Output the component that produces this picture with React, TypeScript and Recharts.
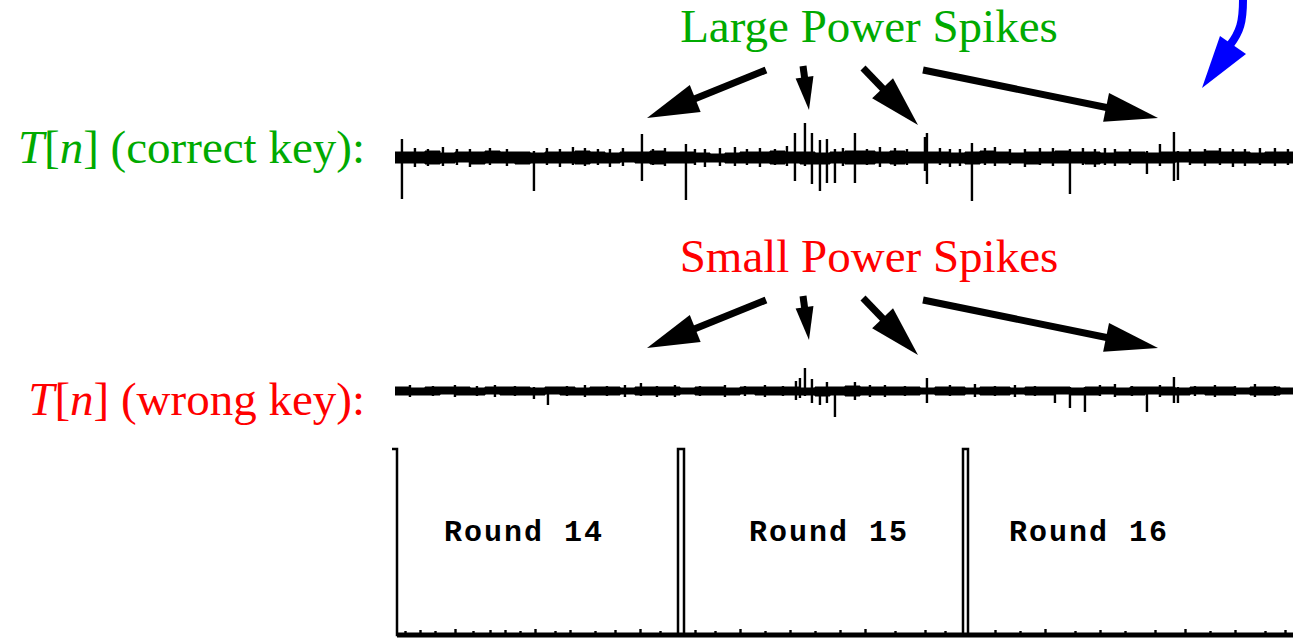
import React from 'react';
import { ComposedChart, Area, Bar, Line, XAxis, YAxis, ReferenceLine } from 'recharts';

// sample index = pixel column of the trace (0 at the left edge of the traces)
const BAND_X = [0, 15, 30, 45, 60, 75, 90, 105, 120, 135, 150, 165, 180, 195, 210, 225, 240, 255, 270, 285,
  300, 315, 330, 345, 360, 375, 390, 405, 420, 435, 450, 465, 480, 495, 510, 525, 540, 555, 570, 585,
  600, 615, 630, 645, 660, 675, 690, 705, 720, 735, 750, 765, 780, 795, 810, 825, 840, 855, 870, 885, 900];

// T[n] with the correct key: noise band and spikes
const CORRECT_HI = [5, 5, 6, 4, 5, 5, 6, 5, 5, 4, 5, 5, 6, 5, 4, 5, 5, 6, 5, 5,
  4, 3, 4, 5, 5, 6, 5, 5, 4, 5, 6, 6, 5, 6, 5, 5, 5, 4, 5, 6,
  5, 4, 5, 5, 6, 5, 5, 4, 5, 5, 4, 5, 5, 5, 6, 5, 5, 4, 5, 5, 5];
const CORRECT_LO = [-6, -6, -7, -6, -5, -7, -6, -6, -7, -6, -6, -6, -7, -6, -6, -5, -6, -7, -6, -6,
  -5, -5, -6, -6, -6, -7, -6, -7, -7, -6, -7, -7, -6, -7, -6, -6, -6, -6, -7, -6,
  -6, -6, -7, -6, -6, -6, -7, -6, -6, -6, -6, -6, -5, -6, -6, -6, -6, -6, -6, -6, -6];
const CORRECT_SPIKE_X = [7, 20, 33, 48, 62, 75, 95, 112, 139, 152, 165, 178, 190, 203, 215, 228, 247, 258, 270, 291,
  300, 310, 325, 340, 352, 365, 380, 392, 400, 410, 417, 425, 432, 440, 448, 460, 472, 485, 500, 512,
  530, 532, 545, 555, 565, 577, 590, 600, 615, 630, 645, 658, 675, 688, 700, 710, 720, 735, 752, 765,
  779, 783, 795, 810, 825, 838, 850, 865, 880, 893];
const CORRECT_SPIKE_LO = [-42, -10, -9, -9, -8, -10, -8, -9, -34, -8, -10, -8, -9, -8, -10, -9, -24, -8, -9, -43,
  -8, -10, -9, -9, -8, -10, -8, -9, -24, -9, -27, -34, -26, -26, -9, -26, -8, -10, -9, -8,
  -14, -27, -8, -10, -9, -44, -8, -9, -8, -10, -8, -9, -37, -8, -10, -8, -9, -8, -17, -9,
  -24, -23, -8, -9, -8, -10, -9, -8, -9, -8];
const CORRECT_SPIKE_HI = [18, 9, 8, 10, 8, 8, 9, 8, 6, 9, 8, 10, 9, 8, 8, 9, 23, 8, 9, 13,
  8, 8, 9, 10, 8, 9, 8, 11, 24, 34, 24, 17, 18, 8, 9, 24, 8, 10, 9, 8,
  20, 24, 9, 8, 8, 14, 9, 10, 8, 8, 9, 9, 8, 9, 8, 9, 8, 8, 6, 13,
  25, 6, 8, 8, 9, 8, 8, 9, 9, 8];

// T[n] with a wrong key
const WRONG_HI = [4, 3, 4, 4, 4, 3, 4, 4, 4, 3, 4, 4, 3, 4, 4, 3, 4, 4, 4, 3,
  4, 4, 3, 4, 4, 4, 4, 3, 4, 4, 5, 4, 4, 4, 4, 3, 4, 4, 3, 4,
  4, 3, 4, 4, 4, 3, 4, 4, 3, 4, 4, 4, 3, 4, 4, 4, 3, 4, 4, 3, 4];
const WRONG_LO = [-4, -4, -4, -3, -4, -4, -3, -4, -4, -4, -3, -4, -4, -4, -4, -3, -4, -4, -4, -3,
  -4, -4, -4, -3, -4, -4, -4, -4, -5, -4, -5, -4, -4, -4, -4, -3, -4, -4, -3, -4,
  -4, -3, -4, -4, -3, -4, -4, -3, -4, -4, -3, -4, -4, -3, -4, -4, -3, -4, -4, -3, -4];
const WRONG_SPIKE_X = [15, 38, 60, 82, 100, 120, 139, 153, 172, 190, 212, 230, 246, 262, 280, 305, 330, 350, 370, 388,
  401, 405, 410, 417, 425, 432, 440, 460, 475, 490, 510, 532, 555, 580, 600, 620, 640, 660, 675, 690,
  705, 720, 737, 752, 765, 779, 783, 800, 820, 840, 860, 880];
const WRONG_SPIKE_LO = [-6, -5, -6, -5, -6, -5, -8, -14, -5, -6, -5, -6, -5, -6, -6, -5, -6, -5, -6, -5,
  -9, -7, -5, -12, -14, -12, -26, -9, -6, -6, -5, -12, -5, -6, -5, -6, -5, -12, -17, -21,
  -5, -6, -5, -21, -6, -12, -12, -5, -6, -5, -6, -5];
const WRONG_SPIKE_HI = [6, 5, 6, 5, 6, 5, 4, 4, 5, 6, 5, 6, 8, 5, 6, 5, 6, 5, 6, 5,
  10, 13, 23, 12, 4, 9, 4, 9, 6, 6, 5, 13, 6, 7, 5, 6, 5, 4, 4, 4,
  6, 7, 5, 4, 6, 14, 4, 5, 6, 5, 7, 5];

// round trigger signal
const ROUND_X = [-3, 2, 2, 283, 283, 289, 289, 568, 568, 573, 573, 900];
const ROUND_V = [190, 190, 4, 4, 190, 190, 4, 4, 190, 190, 4, 4];
const ROUND_NOISE_X = [10, 25, 40, 60, 78, 95, 110, 125, 140, 160, 175, 200, 220, 245, 265, 300, 320, 345, 370, 395,
  420, 445, 470, 500, 530, 550, 600, 625, 650, 680, 705, 730, 760, 790, 815, 840, 870, 890];
const ROUND_NOISE_HI = [8, 9, 8, 10, 8, 9, 9, 8, 10, 8, 9, 8, 9, 10, 8, 9, 8, 10, 8, 9,
  8, 9, 10, 8, 9, 8, 9, 8, 10, 8, 9, 8, 9, 10, 8, 9, 8, 9];
const ROUND_NAMES = ['Round 14', 'Round 15', 'Round 16'];
const ROUND_CENTERS = [129, 434, 694];

const GREEN = '#00aa00';
const RED = '#ff0000';

function traceRows(hi: number[], lo: number[], sx: number[], slo: number[], shi: number[]) {
  const rows: any[] = [];
  BAND_X.forEach((x, i) => rows.push({ x, band: [lo[i], hi[i]] }));
  sx.forEach((x, i) => rows.push({ x, spike: [slo[i], shi[i]] }));
  return rows.sort((a, b) => a.x - b.x);
}

function roundRows() {
  const rows: any[] = [];
  ROUND_X.forEach((x, i) => rows.push({ x, round: ROUND_V[i] }));
  rows.push({ x: 2, base: 4 }, { x: 900, base: 4 });
  ROUND_NOISE_X.forEach((x, i) => rows.push({ x, spike: [4, ROUND_NOISE_HI[i]] }));
  return rows.sort((a, b) => a.x - b.x);
}

// spike drawn as a 2px black stroke centred on its sample
const Spike = (p: any) => {
  if (p.height == null || isNaN(p.y)) return null;
  const y = Math.min(p.y, p.y + p.height);
  const h = Math.abs(p.height);
  return <rect x={p.x + p.width / 2 - 1.2} y={y} width={2.4} height={h} fill="#000" />;
};

function Trace({ rows, top }: { rows: any[]; top: number }) {
  return (
    <div style={{ position: 'absolute', left: 390, top }}>
      <ComposedChart width={905} height={100} data={rows} margin={{ top: 0, right: 0, bottom: 0, left: 0 }}>
        <XAxis dataKey="x" type="number" domain={[-5, 900]} hide />
        <YAxis type="number" domain={[-50, 50]} hide />
        <Area dataKey="band" type="stepAfter" stroke="#000" strokeWidth={1} fill="#000" fillOpacity={1}
          connectNulls isAnimationActive={false} />
        <Bar dataKey="spike" barSize={2} fill="#000" shape={Spike} isAnimationActive={false} />
      </ComposedChart>
    </div>
  );
}

const RoundLabel = (name: string) => (props: any) => {
  const vb = props.viewBox || {};
  return (
    <text x={vb.x} y={vb.y + 102} textAnchor="middle" fontFamily="'Liberation Mono', monospace"
      fontWeight="bold" fontSize={30} letterSpacing={2} fill="#000">{name}</text>
  );
};

function Arrow({ x1, y1, x2, y2, head, half, w, color }: any) {
  const len = Math.hypot(x2 - x1, y2 - y1);
  const ux = (x2 - x1) / len;
  const uy = (y2 - y1) / len;
  const bx = x2 - ux * head;
  const by = y2 - uy * head;
  const px = -uy;
  const py = ux;
  return (
    <g>
      <line x1={x1} y1={y1} x2={bx + ux * 3} y2={by + uy * 3} stroke={color} strokeWidth={w} />
      <polygon points={`${x2},${y2} ${bx + px * half},${by + py * half} ${bx - px * half},${by - py * half}`} fill={color} />
    </g>
  );
}

const ARROWS = [
  { x1: 766, y1: 70, x2: 647, y2: 118, head: 52, half: 14.5 },
  { x1: 803, y1: 66, x2: 809, y2: 110, head: 33, half: 9 },
  { x1: 863, y1: 68, x2: 918, y2: 125, head: 51, half: 14.5 },
  { x1: 923, y1: 70, x2: 1158, y2: 118, head: 53, half: 14.7 },
];

export default function App() {
  const correct = traceRows(CORRECT_HI, CORRECT_LO, CORRECT_SPIKE_X, CORRECT_SPIKE_LO, CORRECT_SPIKE_HI);
  const wrong = traceRows(WRONG_HI, WRONG_LO, WRONG_SPIKE_X, WRONG_SPIKE_LO, WRONG_SPIKE_HI);
  const rounds = roundRows();
  const serif = "'Liberation Serif', 'Times New Roman', serif";

  return (
    <div style={{ position: 'absolute', left: 0, top: 0, width: 1293, height: 639, overflow: 'hidden', background: '#fff' }}>
      <Trace rows={correct} top={107} />
      <Trace rows={wrong} top={341} />

      <div style={{ position: 'absolute', left: 390, top: 439 }}>
        <ComposedChart width={905} height={200} data={rounds} margin={{ top: 0, right: 0, bottom: 0, left: 0 }}>
          <XAxis dataKey="x" type="number" domain={[-5, 900]} hide />
          <YAxis type="number" domain={[0, 200]} hide />
          <Line dataKey="base" type="linear" stroke="#000" strokeWidth={5} dot={false} connectNulls isAnimationActive={false} />
          <Bar dataKey="spike" barSize={2} fill="#000" shape={Spike} isAnimationActive={false} />
          <Line dataKey="round" type="linear" stroke="#000" strokeWidth={2.5} dot={false} connectNulls isAnimationActive={false} />
          {ROUND_NAMES.map((name, i) => (
            <ReferenceLine key={name} x={ROUND_CENTERS[i]} stroke="none" label={RoundLabel(name)} />
          ))}
        </ComposedChart>
      </div>

      <svg width={1293} height={639} style={{ position: 'absolute', left: 0, top: 0, pointerEvents: 'none' }}>
        <text x={869} y={42} textAnchor="middle" fontFamily={serif} fontSize={47} fill={GREEN}>Large Power Spikes</text>
        <text x={869} y={272} textAnchor="middle" fontFamily={serif} fontSize={47} fill={RED}>Small Power Spikes</text>
        <text x={365} y={163} textAnchor="end" fontFamily={serif} fontSize={47} fill={GREEN}>
          <tspan fontStyle="italic">T</tspan>[<tspan fontStyle="italic">n</tspan>] (correct key):
        </text>
        <text x={365} y={415} textAnchor="end" fontFamily={serif} fontSize={47} fill={RED}>
          <tspan fontStyle="italic">T</tspan>[<tspan fontStyle="italic">n</tspan>] (wrong key):
        </text>
        {ARROWS.map((a, i) => (
          <Arrow key={'l' + i} {...a} w={7} color="#000" />
        ))}
        {ARROWS.map((a, i) => (
          <Arrow key={'s' + i} {...a} y1={a.y1 + 230} y2={a.y2 + 230} w={7} color="#000" />
        ))}
        <path d="M1243,0 C1243,22 1240,32 1230,45" stroke="#0000ff" strokeWidth={8} fill="none" />
        <polygon points="1220,36 1246,54 1202,88" fill="#0000ff" />
      </svg>
    </div>
  );
}
